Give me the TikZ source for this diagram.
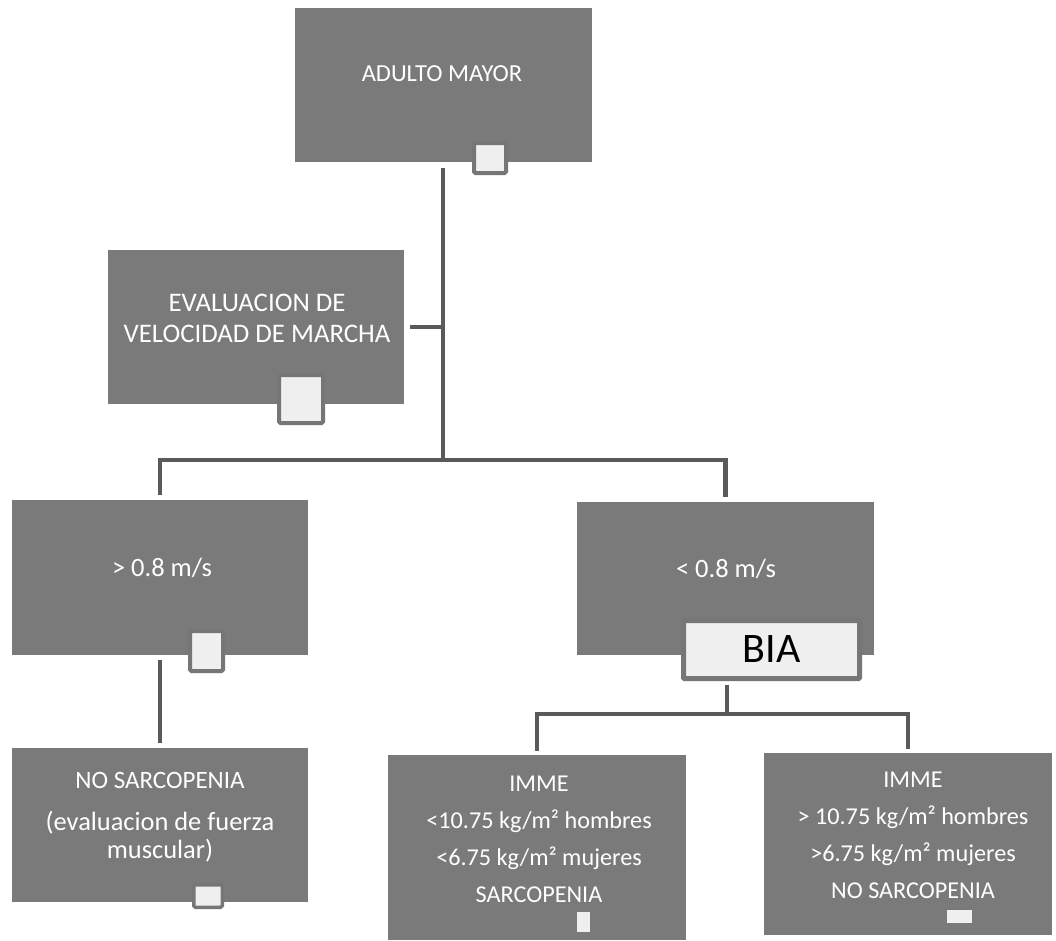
\documentclass[tikz,border=0pt]{standalone}
\usepackage{fontspec}
\setmainfont{Carlito}
\definecolor{boxgray}{HTML}{7A7A7A}
\definecolor{linegray}{HTML}{5A5A5A}
\definecolor{tabfill}{HTML}{EFEFEF}
\definecolor{tabline}{HTML}{767676}
\begin{document}
\begin{tikzpicture}[x=1pt,y=-1pt,
  caja/.style 2 args={fill=boxgray,inner sep=0pt,minimum width=#1,minimum height=#2},
  texto/.style={text=white,align=center,inner sep=0pt},
  tab/.style 2 args={fill=tabfill,draw=tabline,line width=4pt,rounded corners=1.5pt,
    inner sep=0pt,minimum width=#1,minimum height=#2},
  marca/.style 2 args={fill=tabfill,inner sep=0pt,minimum width=#1,minimum height=#2},
  linea/.style={draw=linegray,line width=4.5pt}]
\useasboundingbox (0,0) rectangle (1056,940);
\fill[white] (0,0) rectangle (1056,940);
            % Cajas
\node[caja={297pt}{154pt}] (adulto) at (443.5,85) {};
\node[texto,font=\fontsize{24.5}{29}\selectfont] (adultoT) at (442,74) {ADULTO MAYOR};
\node[tab={32pt}{30pt}] (adultoTab) at (490,158) {};
\node[caja={296pt}{154pt}] (evalua) at (256,327) {};
\node[texto,font=\fontsize{26.8}{31}\selectfont] (evaluaT) at (257,318) {EVALUACION DE\\VELOCIDAD DE MARCHA};
\node[tab={44pt}{48pt}] (evaluaTab) at (301,399) {};
\node[caja={296pt}{155pt}] (mayor) at (160,577.5) {};
\node[texto,font=\fontsize{26.5}{30}\selectfont] (mayorT) at (162,568) {> 0.8 m/s};
\node[tab={33pt}{40pt}] (mayorTab) at (206.5,651) {};
\node[caja={297pt}{153pt}] (menor) at (725.5,578.5) {};
\node[texto,font=\fontsize{26.5}{30}\selectfont] (menorT) at (726,569) {< 0.8 m/s};
\node[tab={176pt}{58pt},line width=5pt,rounded corners=1pt,font=\fontsize{42}{46}\selectfont] (bia) at (771.5,649.5) {BIA};
\node[caja={296pt}{154pt}] (nosarc) at (160,825) {};
\node[texto,font=\fontsize{26.4}{28}\selectfont] (nosarcT) at (160,817) {{\fontsize{25}{28}\selectfont NO SARCOPENIA}\\[14pt](evaluacion de fuerza\\muscular)};
\node[tab={28.5pt}{22.5pt},line width=3.5pt] (nosarcTab) at (208,896) {};
\node[caja={298pt}{185pt}] (immeL) at (537,847.5) {};
\node[texto,font=\fontsize{24.2}{37}\selectfont] (immeLT) at (539,839.5) {IMME\\<10.75 kg/m² hombres\\<6.75 kg/m² mujeres\\SARCOPENIA};
\node[marca={13pt}{20pt}] (immeLTab) at (583.5,922) {};
\node[caja={288pt}{182pt}] (immeR) at (908,844) {};
\node[texto,font=\fontsize{24.2}{37}\selectfont] (immeRT) at (913,835) {IMME\\> 10.75 kg/m² hombres\\>6.75 kg/m² mujeres\\NO SARCOPENIA};
\node[marca={25pt}{13pt}] (immeRTab) at (959.5,916.5) {};
            % Conectores
\coordinate (tronco) at (443,460);
\coordinate (bifurca) at (727,714);
\draw[linea,shorten <=6pt] (adulto.south -| tronco) -- (tronco);
\draw[linea,shorten <=6pt] (evalua.east) -- (evalua.east -| tronco);
\draw[linea,shorten <=5pt,shorten >=5pt] (mayor.north) |- (tronco) -| (menor.north);
\draw[linea,shorten <=5pt,shorten >=5pt] (mayor.south) -- (nosarc.north);
\draw[linea,shorten <=4pt] (bia.south -| bifurca) -- (bifurca);
\draw[linea,shorten <=4pt,shorten >=4pt] (immeL.north) |- (bifurca) -| (immeR.north);
\end{tikzpicture}
\end{document}
